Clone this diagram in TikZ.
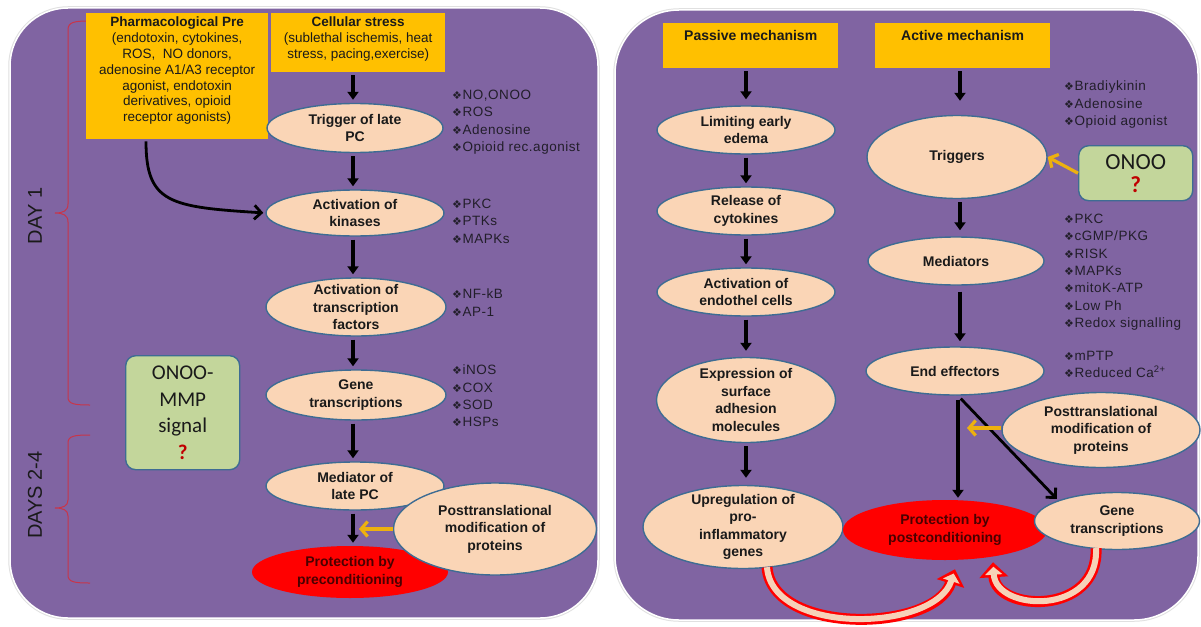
\documentclass[tikz,border=0pt]{standalone}
\usepackage{fontspec}
\setmainfont{Liberation Sans}
\newfontfamily\carlito{Carlito}
\newfontfamily\symfont{DejaVu Sans}
\newfontfamily\listfont[LetterSpace=4]{Liberation Sans}
\usetikzlibrary{shapes.geometric,arrows.meta,calc}

\definecolor{panel}{HTML}{8064A2}
\definecolor{peach}{HTML}{FAD5B6}
\definecolor{edge}{HTML}{3E6C93}
\definecolor{amber}{HTML}{FFC000}
\definecolor{sage}{HTML}{C3D69B}
\definecolor{hotred}{HTML}{FF0000}
\definecolor{darkred}{HTML}{4A0000}
\definecolor{qred}{HTML}{C00000}
\definecolor{gold}{HTML}{EDB10F}
\definecolor{brace}{HTML}{C8354A}
\definecolor{ink}{HTML}{1A1A1A}
\definecolor{listink}{HTML}{221E2A}
\definecolor{tailtan}{HTML}{F6D2B8}

% diamond bullet for the side lists
\newcommand\dia{{\symfont\fontsize{11}{11}\selectfont ❖}\kern0.5pt}

\begin{document}
\begin{tikzpicture}[x=1pt,y=-1pt,
  ov/.style={ellipse, draw=edge, line width=1.4pt, fill=peach, inner sep=0pt},
  ovt/.style={font=\bfseries\fontsize{14}{17.5}\selectfont, align=center, text=ink, inner sep=0pt},
  hot/.style={ellipse, fill=hotred, inner sep=0pt},
  hott/.style={ovt, text=darkred},
  obox/.style={fill=amber, inner sep=0pt, anchor=north west},
  otext/.style={font=\fontsize{13.5}{15.8}\selectfont, align=center, text=ink, inner sep=0pt, anchor=north},
  gbox/.style={rounded corners=10pt, fill=sage, draw=edge, line width=1.4pt, inner sep=0pt, anchor=north west},
  lst/.style={font=\listfont\fontsize{13.5}{17.3}\selectfont, align=left, text=listink, inner sep=0pt, anchor=north west},
  blk/.style={draw=black, line width=3.6pt, -{Triangle[length=8pt,width=11pt]}, shorten <=3pt, shorten >=3pt},
  barb/.style={draw=black, line width=2.8pt, -{Straight Barb[length=7pt,width=14pt]}},
  yarr/.style={draw=gold, line width=3.2pt, -{Straight Barb[length=6.5pt,width=15pt]}},
  brc/.style={draw=brace, line width=1pt},
  daytxt/.style={rotate=90, font=\fontsize{20}{20}\selectfont, text=ink},
  bigout/.style={draw=hotred, line width=11pt, -{Triangle[length=15pt,width=28pt]}},
  bigin/.style={draw=tailtan, line width=6pt, shorten >=4.5pt, -{Triangle[length=8pt,width=17pt]}}
]
\useasboundingbox (0,0) rectangle (1201,626);
\fill[white] (0,0) rectangle (1201,626);

% ---------- panels ----------
\draw[line width=3.5pt, black!12, rounded corners=58pt] (10,8) rectangle (598,618);
\draw[fill=panel, draw=white, line width=1.5pt, rounded corners=58pt] (10,8) rectangle (598,618);
\draw[line width=3.5pt, black!12, rounded corners=64pt] (615,10) rectangle (1198,620);
\draw[fill=panel, draw=white, line width=1.5pt, rounded corners=64pt] (615,10) rectangle (1198,620);

% ---------- left: time braces ----------
\draw[brc] (90,21) .. controls (74,21) and (68,22) .. (68,30) -- (68,204)
  .. controls (68,211) and (63,213) .. (55,213) .. controls (63,213) and (68,215) .. (68,222)
  -- (68,397) .. controls (68,404) and (74,405) .. (90,405);
\draw[brc] (90,435) .. controls (74,435) and (68,436) .. (68,443) -- (68,500)
  .. controls (68,506) and (63,508) .. (55,508) .. controls (63,508) and (68,510) .. (68,516)
  -- (68,575) .. controls (68,582) and (74,583) .. (90,583);
\node[daytxt] (day1) at (35,216) {DAY 1};
\node[daytxt] (day24) at (35,495) {DAYS 2-4};

% ---------- left: source boxes ----------
\node[obox, minimum width=182, minimum height=126,
  label={[otext, yshift=-4pt]north:{\bfseries Pharmacological Pre\\(endotoxin, cytokines,\\ROS,\ \ NO donors,\\adenosine A1/A3 receptor\\agonist, endotoxin\\derivatives, opioid\\receptor agonists)}}]
  (pharm) at (86,13) {};
\node[obox, minimum width=174, minimum height=59,
  label={[otext, yshift=-4pt]north:{\bfseries Cellular stress\\(sublethal ischemis, heat\\stress, pacing,exercise)}}]
  (cell) at (271,13) {};

% ---------- left: cascade ----------
\node[ov, minimum width=176, minimum height=49, label={[ovt]center:{Trigger of late\\PC}}] (trig) at (355,128) {};
\node[ov, minimum width=178, minimum height=46, label={[ovt]center:{Activation of\\kinases}}] (kin) at (355,213) {};
\node[ov, minimum width=180, minimum height=58, label={[ovt]center:{Activation of\\transcription\\factors}}] (tf) at (356,307) {};
\node[ov, minimum width=180, minimum height=50, label={[ovt]center:{Gene\\transcriptions}}] (gene) at (356,395) {};
\node[ov, minimum width=178, minimum height=48, label={[ovt]center:{Mediator of\\late PC}}] (med) at (355,486) {};
\node[hot, minimum width=196, minimum height=52, label={[hott]center:{Protection by\\preconditioning}}] (prot) at (350,572) {};
\node[ov, minimum width=203, minimum height=92, label={[ovt]center:{Posttranslational\\modification of\\proteins}}] (post) at (495,529) {};

\draw[blk] (cell.south -| 353,0) -- (trig.north -| 353,0);
\draw[blk] (trig.south -| 353,0) -- (kin.north -| 353,0);
\draw[blk] (kin.south -| 353,0) -- (tf.north -| 353,0);
\draw[blk] (tf.south -| 353,0) -- (gene.north -| 353,0);
\draw[blk] (gene.south -| 353,0) -- (med.north -| 353,0);
\draw[blk] (med.south -| 353,0) -- (prot.north -| 353,0);

\draw[barb, shorten >=2pt] ($(pharm.south west)+(60,2)$) .. controls +(0,62) and +(-95,-6) .. (kin.west);

\coordinate (pin1) at ($(post.west -| 353,0)+(6,0)$);
\draw[yarr] (post.west) -- (pin1);

% ---------- left: side lists ----------
\node[lst] (l1) at (452,90) {\dia NO,ONOO\\\dia ROS\\\dia Adenosine\\\dia Opioid rec.agonist};
\node[lst] (l2) at (452,199) {\dia PKC\\\dia PTKs\\\dia MAPKs};
\node[lst] (l3) at (452,289) {\dia NF-kB\\\dia AP-1};
\node[lst] (l4) at (452,365) {\dia iNOS\\\dia COX\\\dia SOD\\\dia HSPs};

\node[gbox, minimum width=114, minimum height=114,
  label={[inner sep=0pt, align=center, text=ink, font=\carlito\fontsize{21}{26.7}\selectfont]center:{ONOO-\\MMP\\signal\\{\color{qred}\bfseries ?}}}]
  (g1) at (125,355) {};

% ---------- right: headers ----------
\node[obox, minimum width=175, minimum height=45,
  label={[otext, yshift=-7pt]north:{\bfseries\fontsize{14}{16}\selectfont Passive mechanism}}] (pas) at (663,23) {};
\node[obox, minimum width=175, minimum height=45,
  label={[otext, yshift=-7pt]north:{\bfseries\fontsize{14}{16}\selectfont Active mechanism}}] (act) at (875,23) {};

% ---------- right: passive column ----------
\node[ov, minimum width=178, minimum height=48, label={[ovt]center:{Limiting early\\edema}}] (lim) at (746,130) {};
\node[ov, minimum width=178, minimum height=48, label={[ovt]center:{Release of\\cytokines}}] (rel) at (746,211) {};
\node[ov, minimum width=178, minimum height=48, label={[ovt]center:{Activation of\\endothel cells}}] (endo) at (746,292) {};
\node[ov, minimum width=179, minimum height=85, label={[ovt]center:{Expression of\\surface\\adhesion\\molecules}}] (expr) at (746,400) {};
\node[ov, minimum width=200, minimum height=83, label={[ovt]center:{Upregulation of\\pro-\\inflammatory\\genes}}] (up) at (743,527) {};

\draw[blk, shorten >=6pt] (pas.south -| 746,0) -- (lim.north);
\draw[blk] (lim) -- (rel);
\draw[blk] (rel) -- (endo);
\draw[blk, shorten >=6pt] (endo) -- (expr);
\draw[blk, shorten >=7pt] (expr.south) -- (expr.south |- up.north);

% ---------- right: active column ----------
\node[ov, minimum width=180, minimum height=83, label={[ovt]center:{Triggers}}] (trg) at (957,157) {};
\node[ov, minimum width=176, minimum height=48, label={[ovt]center:{Mediators}}] (med2) at (956,261) {};
\node[ov, minimum width=178, minimum height=48, label={[ovt]center:{End effectors}}] (ee) at (955,371) {};
\node[hot, minimum width=204, minimum height=60, label={[hott]center:{Protection by\\postconditioning}}] (prot2) at (945,530) {};
\node[ov, minimum width=165, minimum height=57, label={[ovt]center:{Gene\\transcriptions}}] (gene2) at (1117,521) {};
\node[ov, minimum width=198, minimum height=75, label={[ovt]center:{Posttranslational\\modification of\\proteins}}] (post2) at (1101,430) {};

\draw[blk, shorten >=14pt] (act.south -| 960,0) -- (trg.north -| 960,0);
\draw[blk, shorten >=6pt] (trg.south -| 960,0) -- (med2.north -| 960,0);
\draw[blk, shorten <=6pt, shorten >=5pt] (med2.south -| 960,0) -- (ee.north -| 960,0);
\draw[blk, shorten <=4pt, shorten >=2pt] (ee.south -| 958,0) -- (prot2.north -| 958,0);
\draw[barb, shorten <=4pt, shorten >=2pt] (ee.south -| 958,0) -- (gene2.north west);

\coordinate (pin2) at ($(post2.west -| 958,0)+(9,-2)$);
\draw[yarr] ($(post2.west)+(0,-2)$) -- (pin2);

\node[gbox, minimum width=114, minimum height=55,
  label={[inner sep=0pt, align=center, text=ink, font=\carlito\fontsize{23}{23}\selectfont]center:{ONOO\\{\color{qred}\bfseries ?}}}]
  (g2) at (1078,145) {};
\draw[yarr] (g2.west) -- (trg.east);

\node[lst] (l5) at (1064,81) {\dia Bradiykinin\\\dia Adenosine\\\dia Opioid agonist};
\node[lst] (l6) at (1064,214) {\dia PKC\\\dia cGMP/PKG\\\dia RISK\\\dia MAPKs\\\dia mitoK-ATP\\\dia Low Ph\\\dia Redox signalling};
\node[lst] (l7) at (1064,351) {\dia mPTP\\\dia Reduced Ca\textsuperscript{2+}};

% ---------- right: feedback block arrows ----------
\coordinate (s1) at ($(up.south)+(24,-2)$);
\coordinate (e1) at ($(prot2.south)+(10,9)$);
\draw[bigout] (s1) .. controls (772,636) and (935,632) .. (e1);
\draw[bigin]  (s1) .. controls (772,636) and (935,632) .. (e1);
\coordinate (s2) at ($(gene2.south)+(-21,-2)$);
\coordinate (e2) at ($(prot2.south)+(48,2)$);
\draw[bigout] (s2) .. controls (1099,616) and (996,612) .. (e2);
\draw[bigin]  (s2) .. controls (1099,616) and (996,612) .. (e2);
\end{tikzpicture}
\end{document}
